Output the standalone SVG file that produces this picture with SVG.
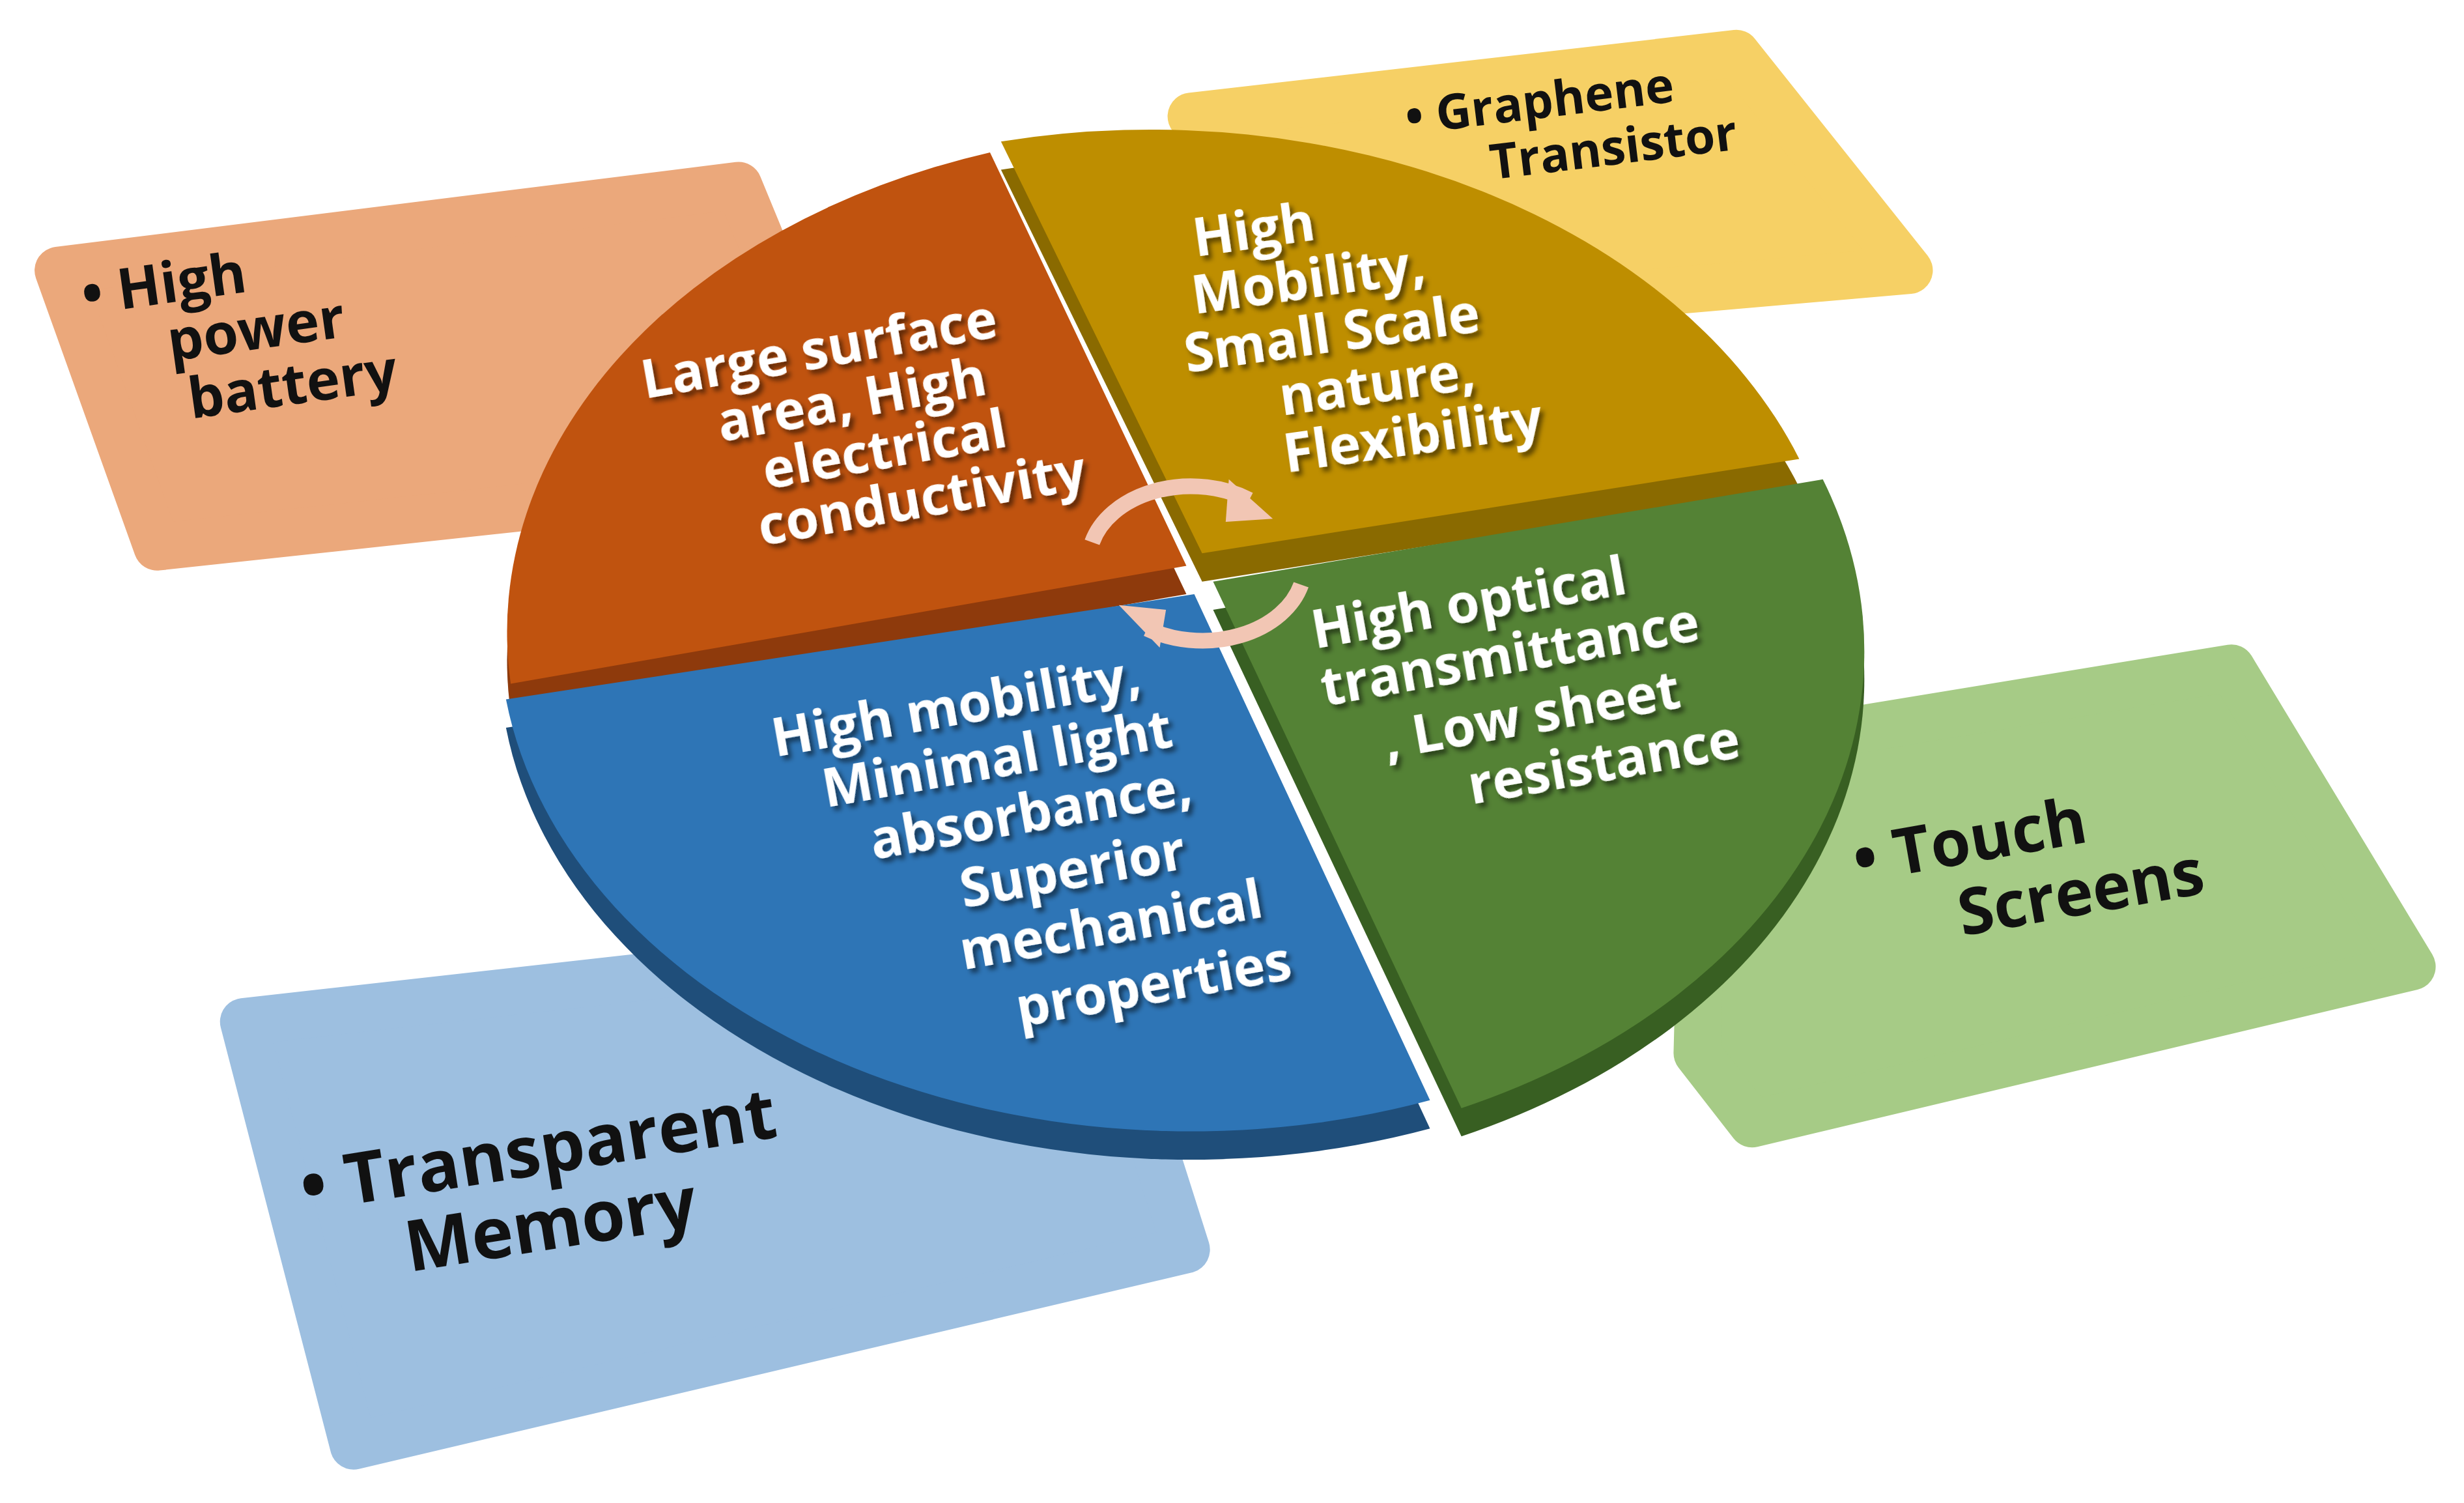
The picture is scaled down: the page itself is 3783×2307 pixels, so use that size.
<svg xmlns="http://www.w3.org/2000/svg" width="3783" height="2307" viewBox="0 0 3783 2307">
<defs>
<filter id="sh" x="-10%" y="-10%" width="120%" height="130%"><feDropShadow dx="2" dy="3" stdDeviation="1.5" flood-color="#000" flood-opacity="0.5"/></filter>
</defs>
<style>
.pt{font-family:"Open Sans","Liberation Sans",sans-serif;font-weight:bold;font-size:34px;fill:#fff;text-anchor:middle;filter:url(#sh)}
.bt{font-family:"Open Sans","Liberation Sans",sans-serif;font-weight:bold;fill:#111}
.box{stroke-linejoin:round;stroke-width:30}
</style>
<rect width="3783" height="2307" fill="#fff"/>
<g transform="scale(2.4126)">
<g id="box-battery"><polygon class="box" points="37,172 470,118 545,300 100,348" fill="#EBA87B" stroke="#EBA87B"/>
<text class="bt" font-size="36" transform="rotate(-8 90 185)"><tspan x="52" y="195">• High</tspan><tspan x="102" y="232">power</tspan><tspan x="110" y="270">battery</tspan></text></g>
<g id="box-transistor"><polygon class="box" points="758,74 1105,34 1215,172 870,202" fill="#F6D065" stroke="#F6D065"/>
<text class="bt" font-size="31" transform="rotate(-7 900 80)"><tspan x="895" y="85">• Graphene</tspan><tspan x="945" y="120">Transistor</tspan></text></g>
<g id="box-touch"><polygon class="box" points="1085,480 1420,425 1535,615 1115,715 1080,670" fill="#A6CB86" stroke="#A6CB86"/>
<text class="bt" font-size="41" transform="rotate(-10 1190 550)"><tspan x="1180" y="560">• Touch</tspan><tspan x="1240" y="605">Screens</tspan></text></g>
<g id="box-memory"><polygon class="box" points="155,650 690,590 755,795 225,920" fill="#9DBFE0" stroke="#9DBFE0"/>
<text class="bt" font-size="45" transform="rotate(-9 200 760)"><tspan x="192" y="770">• Transparent</tspan><tspan x="252" y="818">Memory</tspan></text></g>
<g id="pie-orange">
<path d="M755,378 L325,453 A440 320 0 0 1 630,115 Z" fill="#8E3A0C"/>
<path d="M755,360 L325,435 A440 320 0 0 1 630,97 Z" fill="#C0530F"/>
<text class="pt" transform="rotate(-10 560 270)"><tspan x="530" y="228">Large surface</tspan><tspan x="545" y="263">area, High</tspan><tspan x="560" y="298">electrical</tspan><tspan x="578" y="333">conductivity</tspan></text></g>
<g id="pie-yellow">
<path d="M765,370 L637,108 A440 320 0 0 1 1145,310 Z" fill="#8A6A00"/>
<path d="M765,352 L637,90 A440 320 0 0 1 1145,292 Z" fill="#BE8E00"/>
<text class="pt" transform="rotate(-8 860 215)"><tspan x="808" y="150">High</tspan><tspan x="838" y="186">Mobility,</tspan><tspan x="848" y="222">Small Scale</tspan><tspan x="872" y="258">nature,</tspan><tspan x="890" y="294">Flexibility</tspan></text></g>
<g id="pie-green">
<path d="M772,388 L1160,323 A440 320 0 0 1 930,723 Z" fill="#385F22"/>
<path d="M772,370 L1160,305 A440 320 0 0 1 930,705 Z" fill="#548235"/>
<text class="pt" transform="rotate(-10 970 440)"><tspan x="945" y="390">High optical</tspan><tspan x="965" y="427">transmittance</tspan><tspan x="972" y="467">, Low sheet</tspan><tspan x="1012" y="505">resistance</tspan></text></g>
<g id="pie-blue">
<path d="M760,396 L910,718 A440 320 0 0 1 322,463 Z" fill="#1F4E7A"/>
<path d="M760,378 L910,700 A440 320 0 0 1 322,445 Z" fill="#2E75B6"/>
<text class="pt" transform="rotate(-10 670 540)"><tspan x="625" y="452">High mobility,</tspan><tspan x="645" y="489">Minimal light</tspan><tspan x="660" y="527">absorbance,</tspan><tspan x="680" y="567">Superior</tspan><tspan x="698" y="606">mechanical</tspan><tspan x="718" y="648">properties</tspan></text></g>
<g id="connectors" fill="none" stroke="#F2C6B4" stroke-width="10">
<path d="M695,345 A65 48 0 0 1 795,318"/>
<path d="M828,372 A65 48 0 0 1 730,400"/>
<polygon points="782,305 810,330 780,332" fill="#F2C6B4" stroke="none"/>
<polygon points="742,388 712,385 738,412" fill="#F2C6B4" stroke="none"/>
</g>
</g>
</svg>
